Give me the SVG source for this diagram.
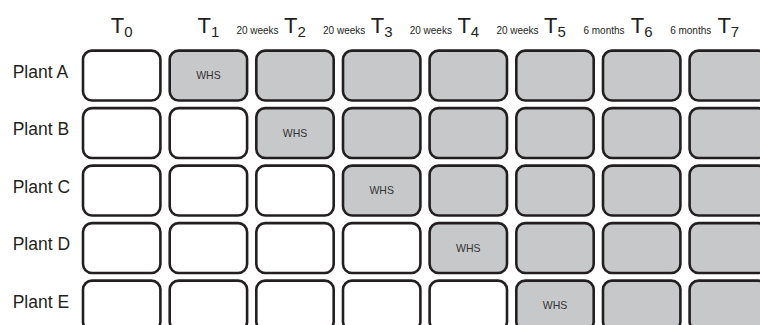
<svg xmlns="http://www.w3.org/2000/svg" width="760" height="325" viewBox="0 0 760 325">
<style>
  .w { fill: #ffffff; stroke: #231f20; stroke-width: 2.6; }
  .g { fill: #c7c8ca; stroke: #231f20; stroke-width: 2.6; }
  .lab { font-family: "Liberation Sans", Arial, sans-serif; fill: #231f20; }
  .plant { font-size: 17.5px; }
  .t { font-size: 22px; text-anchor: middle; }
  .sub { font-size: 15px; }
  .iv { font-size: 10px; text-anchor: middle; }
  .whs { font-family: "Liberation Sans", Arial, sans-serif; font-size: 10.5px; fill: #333333; text-anchor: middle; }
</style>
<rect x="0" y="0" width="760" height="325" fill="#ffffff"/>

<g id="header">
  <text class="lab t" x="121.7" y="33">T<tspan class="sub" dy="3.5">0</tspan></text>
  <text class="lab t" x="208.4" y="33">T<tspan class="sub" dy="3.5">1</tspan></text>
  <text class="lab t" x="295" y="33">T<tspan class="sub" dy="3.5">2</tspan></text>
  <text class="lab t" x="381.7" y="33">T<tspan class="sub" dy="3.5">3</tspan></text>
  <text class="lab t" x="468.3" y="33">T<tspan class="sub" dy="3.5">4</tspan></text>
  <text class="lab t" x="555" y="33">T<tspan class="sub" dy="3.5">5</tspan></text>
  <text class="lab t" x="641.7" y="33">T<tspan class="sub" dy="3.5">6</tspan></text>
  <text class="lab t" x="728.3" y="33">T<tspan class="sub" dy="3.5">7</tspan></text>
  <text class="lab iv" x="257.5" y="34">20 weeks</text>
  <text class="lab iv" x="344.2" y="34">20 weeks</text>
  <text class="lab iv" x="430.8" y="34">20 weeks</text>
  <text class="lab iv" x="517.5" y="34">20 weeks</text>
  <text class="lab iv" x="604" y="34">6 months</text>
  <text class="lab iv" x="690.7" y="34">6 months</text>
</g>

<g id="plantA">
  <text class="lab plant" x="12.7" y="77.7">Plant A</text>
  <rect class="w" x="83" y="50.6" width="77.4" height="49.9" rx="9"/>
  <rect class="g" x="169.7" y="50.6" width="77.4" height="49.9" rx="9"/>
  <text class="whs" x="208.4" y="79.3">WHS</text>
  <rect class="g" x="256.3" y="50.6" width="77.4" height="49.9" rx="9"/>
  <rect class="g" x="343" y="50.6" width="77.4" height="49.9" rx="9"/>
  <rect class="g" x="429.6" y="50.6" width="77.4" height="49.9" rx="9"/>
  <rect class="g" x="516.3" y="50.6" width="77.4" height="49.9" rx="9"/>
  <rect class="g" x="603" y="50.6" width="77.4" height="49.9" rx="9"/>
  <rect class="g" x="689.6" y="50.6" width="77.4" height="49.9" rx="9"/>
</g>

<g id="plantB">
  <text class="lab plant" x="12.7" y="135.2">Plant B</text>
  <rect class="w" x="83" y="108.1" width="77.4" height="49.9" rx="9"/>
  <rect class="w" x="169.7" y="108.1" width="77.4" height="49.9" rx="9"/>
  <rect class="g" x="256.3" y="108.1" width="77.4" height="49.9" rx="9"/>
  <text class="whs" x="295" y="136.8">WHS</text>
  <rect class="g" x="343" y="108.1" width="77.4" height="49.9" rx="9"/>
  <rect class="g" x="429.6" y="108.1" width="77.4" height="49.9" rx="9"/>
  <rect class="g" x="516.3" y="108.1" width="77.4" height="49.9" rx="9"/>
  <rect class="g" x="603" y="108.1" width="77.4" height="49.9" rx="9"/>
  <rect class="g" x="689.6" y="108.1" width="77.4" height="49.9" rx="9"/>
</g>

<g id="plantC">
  <text class="lab plant" x="12.7" y="192.7">Plant C</text>
  <rect class="w" x="83" y="165.6" width="77.4" height="49.9" rx="9"/>
  <rect class="w" x="169.7" y="165.6" width="77.4" height="49.9" rx="9"/>
  <rect class="w" x="256.3" y="165.6" width="77.4" height="49.9" rx="9"/>
  <rect class="g" x="343" y="165.6" width="77.4" height="49.9" rx="9"/>
  <text class="whs" x="381.7" y="194.3">WHS</text>
  <rect class="g" x="429.6" y="165.6" width="77.4" height="49.9" rx="9"/>
  <rect class="g" x="516.3" y="165.6" width="77.4" height="49.9" rx="9"/>
  <rect class="g" x="603" y="165.6" width="77.4" height="49.9" rx="9"/>
  <rect class="g" x="689.6" y="165.6" width="77.4" height="49.9" rx="9"/>
</g>

<g id="plantD">
  <text class="lab plant" x="12.7" y="250.2">Plant D</text>
  <rect class="w" x="83" y="223.1" width="77.4" height="49.9" rx="9"/>
  <rect class="w" x="169.7" y="223.1" width="77.4" height="49.9" rx="9"/>
  <rect class="w" x="256.3" y="223.1" width="77.4" height="49.9" rx="9"/>
  <rect class="w" x="343" y="223.1" width="77.4" height="49.9" rx="9"/>
  <rect class="g" x="429.6" y="223.1" width="77.4" height="49.9" rx="9"/>
  <text class="whs" x="468.3" y="251.8">WHS</text>
  <rect class="g" x="516.3" y="223.1" width="77.4" height="49.9" rx="9"/>
  <rect class="g" x="603" y="223.1" width="77.4" height="49.9" rx="9"/>
  <rect class="g" x="689.6" y="223.1" width="77.4" height="49.9" rx="9"/>
</g>

<g id="plantE">
  <text class="lab plant" x="12.7" y="307.7">Plant E</text>
  <rect class="w" x="83" y="280.6" width="77.4" height="49.9" rx="9"/>
  <rect class="w" x="169.7" y="280.6" width="77.4" height="49.9" rx="9"/>
  <rect class="w" x="256.3" y="280.6" width="77.4" height="49.9" rx="9"/>
  <rect class="w" x="343" y="280.6" width="77.4" height="49.9" rx="9"/>
  <rect class="w" x="429.6" y="280.6" width="77.4" height="49.9" rx="9"/>
  <rect class="g" x="516.3" y="280.6" width="77.4" height="49.9" rx="9"/>
  <text class="whs" x="555" y="309.3">WHS</text>
  <rect class="g" x="603" y="280.6" width="77.4" height="49.9" rx="9"/>
  <rect class="g" x="689.6" y="280.6" width="77.4" height="49.9" rx="9"/>
</g>
</svg>
